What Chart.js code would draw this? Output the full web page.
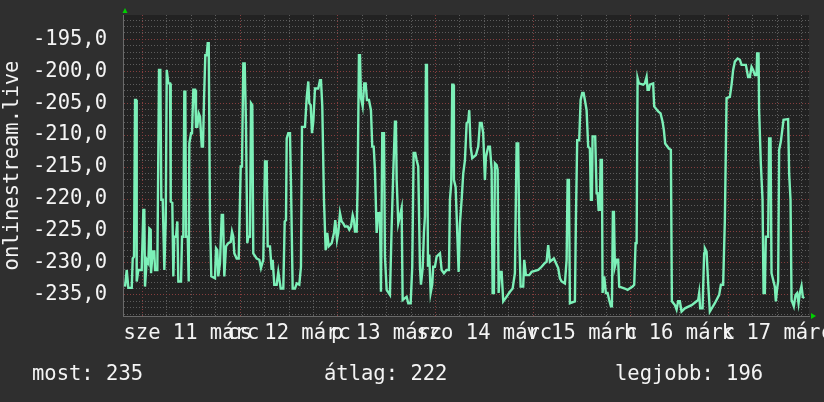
<!DOCTYPE html>
<html>
<head>
<meta charset="utf-8">
<script src="https://cdn.jsdelivr.net/npm/chart.js@4.4.1/dist/chart.umd.min.js"></script>
<style>
  html, body { margin: 0; padding: 0; background: #2f2f2f; }
</style>
</head>
<body>
<canvas id="rrdChart" width="824" height="402"></canvas>
<script>
// hours since 11 March 00:00, one entry per visible step of the trace
var hours = [
  -4.30,-3.88,-3.49,-2.65,-2.41,-2.09,-1.84,-1.60,-1.43,-1.03,
  -0.20,0.20,0.44,0.61,1.03,1.43,1.67,2.01,2.09,2.51,
  2.90,3.07,3.64,4.05,4.37,4.62,4.96,5.36,5.70,5.95,
  6.34,6.76,6.93,7.32,7.57,7.81,8.23,8.55,8.80,9.46,
  9.71,10.02,10.27,10.52,10.69,11.11,11.35,11.50,11.92,12.16,
  12.48,12.90,13.14,13.46,13.81,14.13,14.55,14.86,15.11,15.43,
  15.77,16.02,16.27,16.58,16.90,17.81,18.06,18.38,18.62,19.04,
  19.46,19.78,20.10,20.52,21.08,21.67,21.99,22.31,22.56,23.14,
  23.64,24.13,24.45,24.77,25.11,25.43,25.75,26.00,26.41,26.66,
  26.98,27.22,28.06,28.70,29.11,29.68,30.10,30.52,30.76,31.33,
  31.74,31.99,32.38,32.97,33.37,
  33.96,34.60,34.94,35.26,35.43,35.82,36.24,36.49,36.73,36.90,
  37.47,37.89,38.53,38.94,39.19,39.93,40.34,40.74,40.98,41.33,
  41.65,41.97,42.38,43.19,43.61,43.86,44.18,44.59,45.01,45.40,
  45.75,46.49,47.05,47.37,47.79,48.11,48.53,48.94,49.34,49.75,
  50.42,50.81,51.23,51.65,51.97,52.21,52.63,52.87,53.19,53.44,
  53.69,54.10,54.50,54.84,55.16,55.65,56.14,56.46,56.81,57.12,
  57.54,57.94,58.35,58.60,58.92,59.34,59.58,60.00,60.81,61.23,
  61.62,62.04,62.28,62.46,62.85,63.68,63.93,64.91,65.31,65.90,
  66.29,66.63,67.03,67.37,67.76,68.18,68.43,68.85,69.16,69.41,
  69.66,69.90,70.15,70.47,70.81,71.20,71.45,71.87,72.28,73.10,
  73.51,74.08,74.74,75.31,75.55,75.87,76.12,76.37,76.53,76.95,
  77.35,77.69,78.01,78.43,78.82,79.24,79.66,80.05,80.30,80.64,
  81.03,81.94,82.51,82.92,83.34,83.73,84.15,84.40,84.96,85.38,
  85.80,86.04,86.36,86.61,87.03,87.27,87.52,87.84,88.26,88.65,
  89.24,90.30,90.96,91.52,91.94,92.33,92.58,92.92,93.56,93.81,
  94.23,95.04,95.63,97.25,98.08,98.89,
  99.31,99.70,100.12,101.10,101.60,102.16,102.58,103.00,103.81,104.23,
  104.47,104.79,105.04,106.27,106.51,106.83,107.32,107.67,108.06,108.40,
  108.72,109.14,109.53,109.95,110.20,110.44,110.61,111.25,111.60,111.84,
  112.09,112.41,112.58,112.90,113.07,113.47,113.88,114.30,114.69,115.11,
  115.36,115.60,115.85,116.09,116.51,116.90,117.15,118.55,119.21,120.44,
  120.84,121.18,121.43,121.67,121.99,123.05,123.46,123.88,124.13,124.45,
  124.69,125.50,125.75,126.73,127.32,127.81,128.13,128.45,129.36,129.85,
  130.10,130.83,131.25,131.64,132.06,132.48,133.29,134.94,136.56,136.81,
  137.05,137.64,138.03,138.21,138.62,139.02,139.43,140.66,141.72,142.14,
  142.70,143.12,143.54,144.35,144.77,145.16,145.58,146.24,146.80,147.22,
  148.28,148.84,149.26,149.68,150.07,150.49,150.91,151.05,151.40,151.54,
  151.96,152.38,152.63,152.95,153.19,153.76,154.00,154.35,154.59,155.40,
  155.65,155.97,156.22,156.46,156.88,157.54,158.67,158.92,159.26,159.51,
  160.07,160.49,160.88,161.23,161.55,161.96,162.28,162.61
];

var values = [
  -233.7,-231.1,-233.9,-233.9,-229.3,-229.0,-204.5,-204.5,-232.9,-231.1,
  -231.1,-221.7,-221.7,-233.7,-229.5,-230.0,-224.6,-224.8,-231.6,-228.2,
  -228.2,-231.1,-231.1,-199.8,-199.8,-220.1,-220.1,-231.1,-223.5,-199.8,
  -201.9,-201.9,-220.4,-220.6,-232.1,-225.9,-225.9,-223.5,-232.9,-232.9,
  -225.9,-225.9,-203.2,-203.2,-225.9,-225.9,-232.9,-211.3,-209.7,-209.7,
  -202.9,-202.9,-208.7,-208.7,-206.6,-207.1,-211.8,-211.8,-204.5,-197.5,
  -197.5,-195.6,-195.6,-223.3,-232.1,-232.4,-227.7,-228.0,-232.1,-230.0,
  -222.5,-222.5,-232.1,-227.4,-226.9,-226.7,-225.1,-225.9,-228.5,-229.3,
  -229.3,-214.9,-214.9,-198.8,-198.8,-208.4,-226.9,-225.9,-225.9,-205.0,
  -205.3,-228.5,-229.3,-229.5,-230.8,-229.5,-214.1,-214.1,-227.4,-227.4,
  -231.1,-229.5,-233.4,-233.4,-231.4,
  -234.0,-234.0,-223.5,-223.3,-210.5,-209.7,-209.7,-217.8,-217.8,-234.0,
  -234.0,-233.2,-233.4,-230.6,-208.7,-208.7,-204.2,-201.6,-205.0,-205.3,
  -209.7,-207.9,-202.7,-202.7,-201.4,-201.4,-205.5,-220.1,-228.0,-225.3,
  -227.4,-226.9,-225.3,-223.3,-226.4,-225.3,-222.2,-223.5,-223.8,-224.3,
  -224.3,-224.8,-224.3,-222.5,-223.3,-225.1,-225.1,-217.5,-197.5,-197.5,
  -204.2,-205.5,-201.9,-201.9,-204.5,-204.5,-206.1,-211.8,-211.8,-215.4,
  -225.3,-222.2,-222.2,-234.5,-209.7,-209.7,-229.0,-234.2,-235.0,-224.3,
  -216.0,-207.9,-207.9,-217.0,-223.8,-221.4,-235.8,-235.3,-236.3,-236.3,
  -230.6,-212.8,-212.8,-213.9,-214.9,-230.6,-233.4,-230.8,-225.3,-222.7,
  -199.0,-199.0,-230.6,-228.7,-234.7,-233.4,-230.6,-230.6,-229.0,-228.5,
  -231.1,-231.6,-231.1,-231.1,-220.1,-217.5,-202.1,-202.1,-217.0,-218.1,
  -225.3,-231.4,-223.8,-220.1,-216.0,-213.9,-208.1,-207.9,-206.1,-211.8,
  -213.6,-213.1,-211.8,-208.1,-208.1,-209.7,-217.0,-213.4,-211.8,-211.8,
  -215.4,-234.7,-234.7,-214.4,-214.7,-215.4,-234.7,-231.4,-231.4,-236.0,
  -235.5,-234.5,-234.0,-231.6,-211.3,-211.3,-225.3,-233.7,-233.7,-229.5,
  -231.9,-231.9,-231.4,-231.1,-230.6,-230.0,
  -229.8,-227.2,-229.8,-229.3,-230.0,-230.8,-232.4,-232.9,-233.2,-229.5,
  -217.0,-217.0,-236.3,-236.0,-223.3,-210.8,-210.8,-204.5,-203.4,-203.4,
  -204.5,-206.1,-211.8,-212.1,-220.1,-220.1,-210.2,-210.2,-219.1,-219.1,
  -221.7,-221.7,-213.9,-213.9,-234.7,-232.1,-234.7,-234.7,-235.8,-236.8,
  -236.8,-222.0,-222.0,-230.6,-229.5,-229.5,-233.7,-234.0,-234.2,-233.7,
  -233.4,-226.9,-226.9,-201.1,-201.9,-202.1,-201.9,-200.9,-202.9,-202.9,
  -202.1,-201.9,-205.5,-206.3,-206.6,-207.9,-209.2,-211.3,-212.1,-212.3,
  -236.0,-236.6,-237.3,-236.0,-236.0,-237.6,-237.1,-236.6,-235.8,-234.7,
  -237.1,-237.1,-228.5,-227.7,-228.2,-233.2,-237.6,-236.3,-235.0,-233.4,
  -233.4,-223.3,-204.2,-204.0,-202.1,-199.8,-198.5,-198.0,-198.2,-199.0,
  -199.0,-200.9,-200.9,-199.3,-199.8,-200.6,-200.6,-197.2,-197.2,-206.1,
  -214.4,-220.1,-234.7,-234.7,-225.9,-225.9,-210.5,-210.5,-231.6,-233.7,
  -236.0,-234.0,-232.9,-212.3,-211.0,-207.6,-207.5,-216.0,-220.1,-235.8,
  -236.8,-235.0,-234.7,-236.3,-234.7,-233.6,-235.3,-235.5
];

// one label per day, shown at noon
var dayLabels = ['sze 11 márc', 'cs 12 márc', 'p 13 márc', 'szo 14 márc',
                 'v 15 márc', 'h 16 márc', 'k 17 márc'];

var statNames = ['most', 'átlag', 'legjobb'];
var statValues = [235, 222, 196];

var seriesName = 'onlinestream.live';

var textColor = '#f4f4f4';
var lineColor = '#7cf0b8';
var minorGrid = '#5c5c5c';
var majorGrid = '#843e3e';
var axisColor = '#6a6a6a';
var arrowColor = '#00d000';
var monoFont = '"DejaVu Sans Mono", monospace';
var fontSize = 20.5;

function fmtValue(v) {
  return v.toFixed(1).replace('.', ',');
}

var points = hours.map(function(h, i) {
  return { x: h, y: values[i] };
});

/* background, plot canvas, axis arrows and the GPRINT-like line */
var rrdFrame = {
  id: 'rrdFrame',
  beforeDraw: function(chart) {
    var c = chart.ctx;
    var a = chart.chartArea;
    c.save();
    c.fillStyle = '#2f2f2f';
    c.fillRect(0, 0, chart.width, chart.height);
    c.fillStyle = '#222222';
    c.fillRect(a.left, a.top, a.right - a.left, a.bottom - a.top);
    c.restore();
  },
  afterDraw: function(chart) {
    var c = chart.ctx;
    var a = chart.chartArea;
    c.save();
    c.fillStyle = arrowColor;
    c.beginPath();
    c.moveTo(a.left - 0.5, a.top - 2);
    c.lineTo(a.left + 4.5, a.top - 2);
    c.lineTo(a.left + 2, a.top - 7);
    c.closePath();
    c.fill();
    c.beginPath();
    c.moveTo(a.right + 2, a.bottom - 3);
    c.lineTo(a.right + 2, a.bottom + 3);
    c.lineTo(a.right + 7, a.bottom);
    c.closePath();
    c.fill();

    c.font = fontSize + 'px ' + monoFont;
    c.fillStyle = textColor;
    c.textBaseline = 'alphabetic';
    c.textAlign = 'left';
    var statX = [32, 324, 615];
    statNames.forEach(function(n, i) {
      c.fillText(n + ': ' + statValues[i], statX[i], 380);
    });
    c.restore();
  }
};

new Chart(document.getElementById('rrdChart'), {
  type: 'line',
  data: {
    datasets: [{
      label: seriesName,
      data: points,
      borderColor: lineColor,
      borderWidth: 2.4,
      pointRadius: 0,
      tension: 0,
      fill: false
    }]
  },
  options: {
    responsive: false,
    animation: false,
    layout: { padding: { top: 15, right: 15, bottom: 0, left: 0 } },
    plugins: {
      legend: { display: false },
      tooltip: { enabled: false }
    },
    scales: {
      x: {
        type: 'linear',
        min: -4.8,
        max: 163.8,
        grid: {
          drawTicks: false,
          lineWidth: 1,
          color: function(ctx) {
            if (!ctx.tick) return minorGrid;
            return ctx.tick.value % 24 === 0 ? majorGrid : minorGrid;
          }
        },
        border: { color: axisColor, width: 1, dash: [1, 2] },
        ticks: {
          stepSize: 6,
          includeBounds: false,
          autoSkip: false,
          minRotation: 0,
          maxRotation: 0,
          padding: 5,
          color: textColor,
          font: { family: monoFont, size: fontSize },
          callback: function(v) {
            var k = (v - 12) / 24;
            if (k >= 0 && k === Math.floor(k) && k < dayLabels.length) return dayLabels[k];
            return '';
          }
        },
        afterFit: function(s) {
          s.height = 86;
          s.paddingLeft = 0;
          s.paddingRight = 0;
        }
      },
      y: {
        type: 'linear',
        min: -238.3,
        max: -191.2,
        grid: {
          drawTicks: false,
          lineWidth: 1,
          color: function(ctx) {
            if (!ctx.tick) return minorGrid;
            return Math.round(ctx.tick.value) % 5 === 0 ? majorGrid : minorGrid;
          }
        },
        border: { color: axisColor, width: 1, dash: [1, 2] },
        ticks: {
          stepSize: 1,
          includeBounds: false,
          autoSkip: false,
          padding: 16,
          color: textColor,
          font: { family: monoFont, size: fontSize },
          callback: function(v) {
            return Math.round(v) % 5 === 0 ? fmtValue(v) : '';
          }
        },
        title: {
          display: true,
          text: seriesName,
          color: textColor,
          font: { family: monoFont, size: fontSize },
          padding: 0
        },
        afterFit: function(s) {
          s.width = 123;
          s.paddingTop = 0;
          s.paddingBottom = 0;
        }
      }
    }
  },
  plugins: [rrdFrame]
});
</script>
</body>
</html>
